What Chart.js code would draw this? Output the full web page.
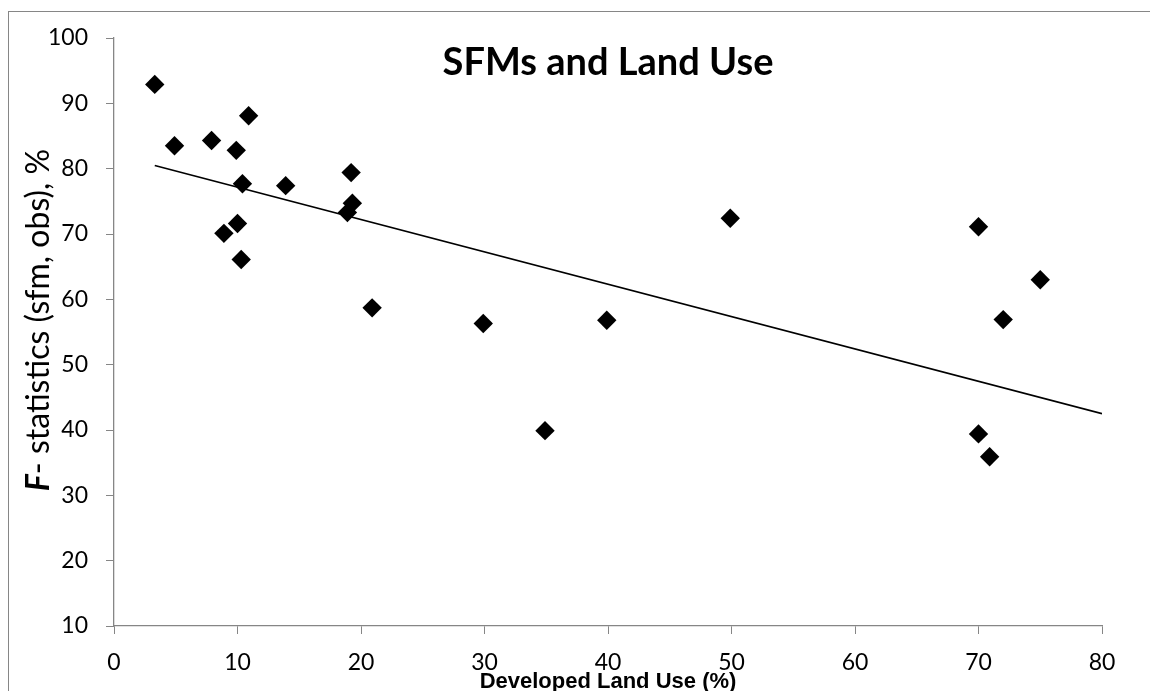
<!DOCTYPE html>
<html>
<head>
<meta charset="utf-8">
<script src="https://cdn.jsdelivr.net/npm/chart.js@4.4.1/dist/chart.umd.min.js"></script>
<style>
  html, body { margin: 0; padding: 0; background: #fff; overflow: hidden; }
  #wrap { position: relative; width: 1150px; height: 691px; }
  #frame {
    position: absolute; left: 8px; top: 11px; width: 1200px; height: 760px;
    border: 1px solid #868686; box-sizing: border-box; pointer-events: none;
  }
</style>
</head>
<body>
<div id="wrap">
  <canvas id="sfmChart" width="1150" height="691"></canvas>
  <div id="frame"></div>
</div>
<script>
// developed land use (%) and F-statistics (%) per site
const landUse = [3.3, 4.9, 7.9, 10.9, 9.9, 10.4, 13.9, 19.2, 19.3, 18.9, 10.0, 8.9, 10.3, 20.9,
                 49.9, 29.9, 39.9, 34.9, 70.0, 75.0, 72.0, 70.0, 70.9];
const fStat   = [92.9, 83.5, 84.3, 88.1, 82.8, 77.7, 77.4, 79.4, 74.7, 73.3, 71.6, 70.1, 66.1, 58.7,
                 72.4, 56.3, 56.8, 39.9, 71.1, 63.0, 56.9, 39.4, 35.9];

// linear trend line end points
const trendX = [3.3, 80];
const trendY = [80.5, 42.5];

const xTicks = [0, 10, 20, 30, 40, 50, 60, 70, 80];
const yTicks = [10, 20, 30, 40, 50, 60, 70, 80, 90, 100];

const chartTitle = 'SFMs and Land Use';
const xTitle = 'Developed Land Use (%)';
const yTitleItalic = 'F';
const yTitleRest = '- statistics (sfm, obs), %';

const axisGray = '#868686';

// titles drawn by hand (Excel style, italic F on the y title)
const textPlugin = {
    id: 'texts',
    afterDraw(chart){
        const ctx = chart.ctx;
        const area = chart.chartArea;
        ctx.save();
        ctx.fillStyle = '#000';

        ctx.font = 'bold 38px Lato';
        ctx.textAlign = 'center';
        ctx.textBaseline = 'alphabetic';
        ctx.fillText(chartTitle, (area.left + area.right) / 2, 75);

        ctx.font = 'bold 22px "Liberation Sans"';
        ctx.fillText(xTitle, (area.left + area.right) / 2, 688);

        ctx.translate(49, 320);
        ctx.rotate(-Math.PI / 2);
        ctx.textAlign = 'left';
        ctx.font = 'italic bold 32px Lato';
        const w1 = ctx.measureText(yTitleItalic).width;
        ctx.font = '32px Lato';
        const w2 = ctx.measureText(yTitleRest).width;
        let x0 = -(w1 + w2) / 2;
        ctx.font = 'italic bold 32px Lato';
        ctx.fillText(yTitleItalic, x0, 0);
        ctx.font = '32px Lato';
        ctx.fillText(yTitleRest, x0 + w1, 0);
        ctx.restore();
    }
};

new Chart(document.getElementById('sfmChart'), {

    type: 'scatter',

    data: {
        datasets: [
            {
                data: landUse.map((x, i) => ({ x: x, y: fStat[i] })),
                pointStyle: 'rectRot',
                pointRadius: 9.7,
                pointHoverRadius: 9.7,
                backgroundColor: '#000',
                borderColor: '#000',
                borderWidth: 0
            },
            {
                type: 'line',
                data: trendX.map((x, i) => ({ x: x, y: trendY[i] })),
                borderColor: '#000',
                borderWidth: 1.6,
                pointRadius: 0,
                fill: false
            }
        ]
    },

    options: {
        responsive: false,
        animation: false,
        layout: {
            padding: { top: 38, right: 48, left: 0, bottom: 0 }
        },
        plugins: {
            legend: { display: false },
            tooltip: { enabled: false }
        },
        scales: {
            x: {
                type: 'linear',
                min: 0,
                max: 80,
                afterBuildTicks(scale){
                    scale.ticks = xTicks.map(v => ({ value: v }));
                },
                afterFit(scale){
                    scale.height = 65;
                },
                grid: {
                    drawOnChartArea: false,
                    drawTicks: true,
                    tickLength: 8,
                    color: axisGray
                },
                border: { color: axisGray, width: 1.3 },
                ticks: {
                    color: '#000',
                    padding: 15,
                    maxRotation: 0,
                    font: { family: 'Lato', size: 23 }
                }
            },
            y: {
                type: 'linear',
                min: 10,
                max: 100,
                afterBuildTicks(scale){
                    scale.ticks = yTicks.map(v => ({ value: v }));
                },
                afterFit(scale){
                    scale.width = 114;
                },
                grid: {
                    drawOnChartArea: false,
                    drawTicks: true,
                    tickLength: 8,
                    color: axisGray
                },
                border: { color: axisGray, width: 1.3 },
                ticks: {
                    color: '#000',
                    padding: 18,
                    font: { family: 'Lato', size: 23 }
                }
            }
        }
    },

    plugins: [textPlugin]

});
</script>
</body>
</html>
